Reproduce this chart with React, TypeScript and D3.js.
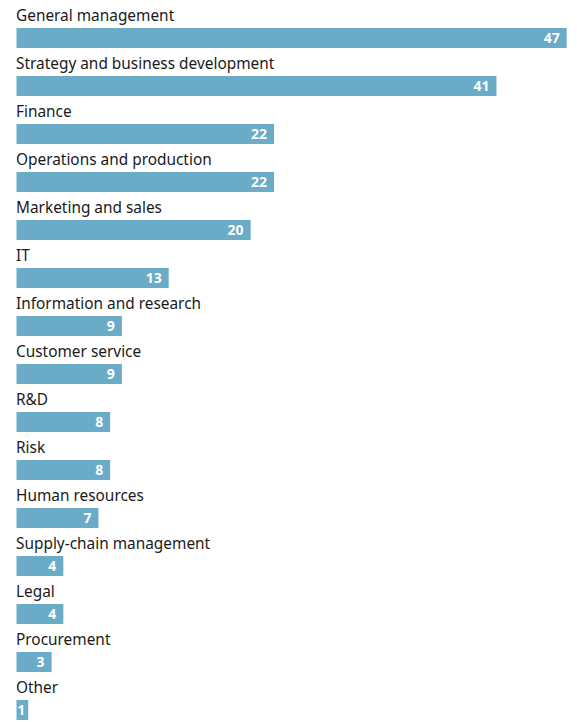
import React from "react";
import * as d3 from "d3";

const categories = [
  "General management",
  "Strategy and business development",
  "Finance",
  "Operations and production",
  "Marketing and sales",
  "IT",
  "Information and research",
  "Customer service",
  "R&D",
  "Risk",
  "Human resources",
  "Supply-chain management",
  "Legal",
  "Procurement",
  "Other",
];
const values = [47, 41, 22, 22, 20, 13, 9, 9, 8, 8, 7, 4, 4, 3, 1];

const W = 577;
const H = 722;
const left = 16.5;
const right = 566.7;
const top0 = 28;
const pitch = 48;
const barH = 20;

export default function App() {
  const x = d3.scaleLinear().domain([0, 47]).range([left, right]);
  const y = d3
    .scaleBand<string>()
    .domain(categories)
    .range([top0, top0 + pitch * categories.length])
    .paddingInner(0)
    .paddingOuter(0);
  const font = "'Noto Sans', sans-serif";
  return (
    <svg
      width={W}
      height={H}
      style={{ position: "absolute", left: 0, top: 0, display: "block" }}
    >
      <rect width={W} height={H} fill="#ffffff" />
      {categories.map((c, i) => {
        const by = y(c)!;
        const v = values[i];
        return (
          <g key={c}>
            <text
              x={16}
              y={by - 7}
              fontFamily={font}
              fontSize={15.4}
              fill="#1a1a1a"
            >
              {c}
            </text>
            <rect
              x={x(0)}
              y={by}
              width={x(v) - x(0)}
              height={barH}
              fill="#6aabc8"
            />
            <text
              x={x(v) - (v < 2 ? 3 : 7)}
              y={by + 15}
              textAnchor="end"
              fontFamily={font}
              fontSize={14}
              fontWeight="bold"
              fill="#ffffff"
            >
              {v}
            </text>
          </g>
        );
      })}
    </svg>
  );
}
